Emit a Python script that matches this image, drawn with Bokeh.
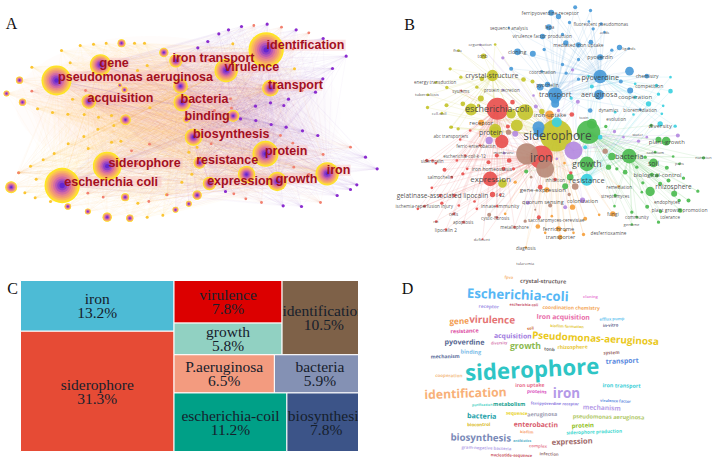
from bokeh.plotting import figure
from bokeh.models import ColumnDataSource, Range1d
from bokeh.layouts import column, row
from bokeh.core.properties import value
from bokeh.embed import file_html
from bokeh.resources import INLINE
from math import radians

# ---------- Panel A: co-occurrence network (values read at 3x of the picture) ----------
A_HUBS = [(797,148,53),(168,240,45),(185,555,53),(320,497,43),(300,193,32),(677,210,35),
          (526,181,20),(810,263,25),(265,303,22),(545,306,26),(558,357,10),(698,346,18),
          (579,410,26),(795,460,39),(597,487,18),(980,520,35),(830,543,29),(738,522,26),
          (627,549,20),(540,257,22),(375,358,16),(490,156,14),(363,128,12),(32,560,18),
          (590,584,14),(374,590,12),(320,650,14),(388,653,11),(262,633,9),(202,618,10),
          (525,628,9),(565,610,9),(57,239,11),(18,279,9),(66,305,11),(372,268,9),(358,254,6)]
A_YELLOW = [(183,150),(94,200),(209,187),(239,135),(279,131),(317,128),(402,128),(432,128),
            (440,195),(411,210),(448,322),(333,345),(202,341),(156,336),(111,325),(216,296),
            (128,478),(90,497),(107,536),(161,459),(203,430),(250,408),(333,425),(361,422),
            (340,375),(55,517),(440,650),(487,644),(412,608),(574,521),(565,455),(498,583),
            (544,545),(590,440),(292,386),(294,350),(251,342),(263,444),(150,603),(73,577),
            (104,592),(697,130),(882,205)]
A_SALMON = [(94,272),(255,270),(277,300),(262,578),(308,590),(445,603),(500,583),(393,451),
            (447,431),(410,490),(632,430),(690,295),(693,323),(642,330),(840,405),(880,500),
            (925,522),(877,428),(968,462),(1050,440),(700,580),(736,595),(783,606),(960,606),
            (1020,505),(878,145),(625,178),(760,75),(843,80),(925,97),(905,270),(54,517)]
A_PURPLE = [(723,78),(800,71),(887,88),(968,114),(1037,167),(996,204),(967,235),(864,296),
            (945,275),(810,307),(765,317),(850,315),(720,355),(766,360),(812,372),(857,380),
            (906,391),(952,405),(655,100),(684,88),(622,123),(592,142),(1069,553),(1050,567),
            (1010,585),(903,618),(848,616),(675,573),(1095,470),(1130,505)]
A_LABELS = ["identification","iron transport","virulence","gene","pseudomonas aeruginosa","transport",
            "acquisition","bacteria","binding","biosynthesis","protein","siderophore","resistance",
            "iron","growth","expression","escherichia coli"]
A_LAB_X = [915,639,754,341,405,885,360,612,620,692,857,432,680,1014,888,719,332]
A_LAB_Y = [134,171,200,188,229,254,293,296,347,399,450,488,477,509,534,540,544]
A_LAB_W = [232,222,152,82,472,150,188,130,118,222,120,220,163,64,112,180,293]

# ---------- Panel B: VOSviewer map ----------
B_BLUE = [(725,228,20),(590,282,22),(722,283,15),(813,212,13),(815,270,9),(578,37,9),(600,48,8),
          (650,20,6),(696,30,5),(633,66,5),(728,70,5),(691,63,4),(704,85,5),(738,95,4),(571,80,9),
          (451,81,3),(552,108,8),(612,102,5),(622,127,8),(660,133,8),(697,125,7),(477,154,10),
          (523,160,9),(557,147,5),(725,170,9),(660,177,5),(612,192,5),(783,141,8),(760,149,5),
          (811,144,4),(458,205,6),(550,213,4),(623,218,5),(660,236,5),(567,252,8),(545,260,10),
          (787,243,6),(865,227,7),(540,380,18),(590,310,12),(590,295,14),(540,395,15),(695,330,7),
          (845,327,4)]
B_OLIVE = [(593,405,48),(402,225,17),(338,327,18),(500,335,24),(458,340,14),(370,235,7),(367,294,9),
           (360,315,5),(313,310,7),(264,314,6),(207,321,5),(250,338,4),(275,205,5),(307,230,5),
           (265,261,5),(232,246,4),(208,283,4),(355,260,5),(495,237,7),(522,243,6),(375,167,8),
           (410,132,4),(300,150,4),(299,385,5),(277,380,5),(475,375,18),(410,388,18),(550,333,8),
           (410,395,17),(432,549,13),(280,380,4)]
B_RED = [(548,470,35),(417,325,33),(395,535,22),(430,423,20),(205,480,5),(222,480,4),
         (258,508,6),(232,488,4),(295,480,4),(320,465,4),(280,530,4),(313,520,5),(326,505,4),
         (390,485,6),(220,562,4),(245,585,5),(287,585,5),(301,615,4),(250,608,5),(198,617,4),
         (178,625,4),(286,640,4),(233,663,4),(262,687,4),(315,665,4),(415,617,4),(415,651,4),
         (348,603,4),(355,625,4),(402,582,8),(425,583,4),(335,390,4),(365,435,4),(415,465,6),
         (452,480,7),(435,505,6),(465,505,5),(468,680,4),(372,716,3),(541,650,6),(545,560,7),
         (590,537,5),(637,517,5),(305,417,4),(448,378,6),(462,305,7),(640,342,7),(308,270,3)]
B_GREEN = [(690,395,35),(685,490,22),(812,467,22),(885,487,13),(875,573,14),(923,422,13),(900,418,9),
           (760,468,11),(750,500,8),(800,515,7),(775,505,5),(620,557,9),(635,530,10),(770,585,5),
           (768,617,4),(820,635,5),(866,619,6),(900,665,5),(820,672,4),(947,580,9),(962,600,5),
           (965,630,7),(906,633,5),(835,650,4),(990,600,6),(1018,572,5),(1035,472,5),(963,490,4),
           (944,468,4),(925,502,6),(895,525,6),(890,455,4),(860,470,5),(905,550,6),(853,547,5),
           (975,533,5),(503,513,6),(835,500,5),(880,523,6),(850,575,4),(930,540,6),(742,378,5),
           (878,375,5),(700,370,15)]
B_CYAN = [(685,538,18),(725,410,7),(680,440,6),(905,370,8),(950,377,5),(870,310,8),(936,230,4),
          (894,255,5),(830,250,4),(936,272,7),(900,281,5),(830,290,5),(914,316,4),(910,340,4),
          (825,342,4),(770,335,4),(690,227,4),(700,258,6),(638,293,5),(595,365,15)]
B_PURPLE = [(645,450,27),(433,172,5),(642,208,5),(525,285,4),(658,304,6),(532,318,6),(600,330,5),
            (365,133,3),(433,268,3),(392,420,11),(470,400,9),(437,458,4),(768,393,5),(840,422,5),
            (958,405,6),(795,410,4),(865,410,4),(672,599,8),(508,607,6),(620,620,6),(595,475,4)]
B_BROWN = [(505,460,32),(560,505,27),(450,395,8),(740,452,8),(650,558,10),(632,582,5),(575,615,6),
           (392,643,6),(500,662,5),(530,628,3),(518,530,4)]
B_ORANGE = [(573,343,13),(368,367,9),(565,568,8),(642,620,8),(722,643,4),(763,640,8),(780,558,4),
            (680,655,6),(675,702,5),(645,697,4),(600,685,8),(605,710,7),(560,697,4),(538,678,7),
            (580,647,4),(620,690,4),(502,741,4),(470,545,5),(618,488,4),(440,640,4)]
B_LABELS = ["ferripyoverdine receptor","sequence analysis","fepa","fluorescent pseudomonas",
            "virulence factor production","acids","mediated iron uptake","organization","ligands","fhua",
            "cloning","tonb","pyoverdin","coordination","crystal-structure","pyoverdine","chemistry",
            "energy transduction","pyochelin","competition","systems","protein secretion","tuberculosis",
            "transport","aeruginosa","cooperation","escherichia-coli","dynamics","bioremediation","cell-wall",
            "iron-uptake","toxin","evolution","receptor","diversity","abc transporters","protein","siderophore",
            "water","plant-growth","ferric-enterobactin","cadmium","nutrition","iron","bacteria","membrane",
            "siderocalin","escherichia-coli-k-12","growth","soil","pahs","iron homeostasis","biological-control",
            "salmochelin","expression","inhibition","resistance","rhizosphere","remediation","gene-expression",
            "streptomyces","gelatinase-associated lipocalin","il-22","quorum sensing","colonization","endophytes",
            "ischemia-reperfusion injury","innate immunity","plant growth promotion","cells","fungi",
            "cystic-fibrosis","saccharomyces-cerevisiae","community","tolerance","genome","rat","apoptosis",
            "metallophore","ferrichrome","lipocalin 2","transporter","desferrioxamine","deficient","diagnosis","tularemia"]
B_LAB_X = [575,451,573,727,551,738,660,365,811,297,476,372,725,552,400,725,866,230,567,872,307,430,205,590,
           722,830,416,750,845,242,575,676,773,368,905,277,397,597,838,925,352,890,1035,548,812,435,221,318,
           685,885,963,400,897,245,396,590,685,945,782,553,770,252,425,553,672,925,197,425,963,285,763,410,593,
           835,935,819,232,314,468,600,262,606,750,370,502,500]
B_LAB_Y = [37,81,79,69,107,95,133,132,144,150,154,167,169,213,224,228,227,245,252,255,270,269,281,281,283,290,
           324,327,327,338,344,351,356,367,375,407,395,406,403,423,435,455,472,470,467,457,480,465,488,488,490,
           505,522,530,533,537,539,557,558,568,586,586,584,603,600,603,617,617,628,640,639,651,657,650,650,673,
           663,664,679,685,687,709,698,716,741,790]
B_LAB_S = [5,4.5,4.5,4.5,4.7,4,5,4,4,4,5.5,4.5,5.5,4.5,7,7.2,5,4.5,5,5,4.5,4.5,4.2,7.4,7,6,9,4.5,4.7,4,6,4,4.5,6,6,
           4.5,7,12,4,6,4.5,4,4,12,7.5,4,4.5,4.5,9,7,4,5,6,4.5,8,4.5,7.5,6.5,4.5,6,4.5,6.5,4.5,5.5,5.5,4.7,4.5,
           5,5,4.5,5,4.5,4.7,4.5,4.5,4.2,4,4.5,4.5,5.7,4.7,5.5,4.7,4,4.5,4]

# ---------- Panel C: treemap shares ----------
C_LEFT = ["iron","siderophore"]
C_LEFT_V = [13.2,31.3]
C_TOP_COL = ["virulence","growth"]
C_TOP_COL_V = [7.8,5.8]
C_TOP_SIDE = ["identification"]
C_TOP_SIDE_V = [10.5]
C_MID = ["P.aeruginosa","bacteria"]
C_MID_V = [6.5,5.9]
C_BOT = ["escherichia-coil","biosynthesis"]
C_BOT_V = [11.2,7.8]
C_COLORS = {"iron":"#4DBBD5","siderophore":"#E64B35","virulence":"#DC0000","growth":"#91D1C2",
            "identification":"#7E6148","P.aeruginosa":"#F39B7F","bacteria":"#8491B4",
            "escherichia-coil":"#00A087","biosynthesis":"#3C5488"}

# ---------- Panel D: word cloud ----------
D_WORDS = ["fpva","crystal-structure","Escherichia-coli","cloning","receptor","escherichia-coli",
           "coordination chemistry","gene","virulence","Iron acquisition","efflux pump","resistance","soil",
           "biofilm formation","in-vitro","acquisition","Pseudomonas-aeruginosa","pyoverdine","diversity",
           "growth","tonb","rhizosphere","binding","system","mechanism","transport","siderophore",
           "cooperation","iron uptake","proteins","iron","iron transport","identification","purification",
           "metabolism","ferripyoverdine receptor","virulence factor","mechanism","bacteria","sequence",
           "aeruginosa","pseudomonas aeruginosa","biocontrol","enterobactin","protein","biofilm",
           "siderophore production","biosynthesis","antibiotics","expression","complex",
           "gram-negative bacteria","infection","nucleotide-sequence"]
D_X = [325,428,352,570,265,370,512,176,275,488,634,192,390,500,630,337,585,192,296,375,447,516,211,633,134,
       665,395,145,388,409,498,663,195,245,326,463,645,604,244,349,425,624,235,406,547,379,581,241,365,515,413,
       258,446,333]
D_Y = [35,47,87,93,122,117,126,165,161,154,160,196,188,182,179,211,217,228,232,242,250,244,259,260,272,286,
       310,329,358,377,381,360,383,417,415,414,406,426,450,442,446,454,476,477,480,499,498,516,526,527,540,
       546,564,569]
D_W = [26,157,355,48,65,100,180,55,150,183,75,92,26,108,57,125,365,120,58,88,30,95,65,45,75,105,410,83,92,63,
       90,128,288,70,90,158,105,100,95,62,90,207,75,137,70,45,172,195,62,128,50,160,65,127]
D_A = [-3,-1,-2,0,-2,-1,-1,2,-1,-1,2,2,6,-2,2,-1,-3,-1,2,0,-5,1,-2,2,1,2,3,-1,1,-2,0,-1,2,1,0,-1,-2,-2,-2,-2,
       1,-1,1,-1,2,-2,2,-1,0,2,-2,-2,-2,-1]
D_C = ["#f6b26b","#6f6363","#56b7f5","#ea8ad8","#a89ae8","#c8566a","#f4a95a","#f29a50","#e57373","#e86aa8",
       "#70c8f0","#dd4fa5","#cf6a30","#e3c840","#5c5f8a","#a07ae0","#eac81a","#566690","#d67ab0","#8cba50",
       "#6e6e6e","#e8c83a","#7ebde8","#9a6a6a","#5a6a9a","#5a8ae0","#2ec5c5","#f4c08a","#e86a8a","#d84fc0",
       "#b49ae8","#3ccfd8","#f8b078","#4fd4c8","#20a090","#8a7ae0","#5a8ae0","#b8a0e8","#20a0a8","#e8d020",
       "#9a9ab0","#b0c868","#d8b820","#d85a6a","#90c020","#f8a070","#40d8d0","#7a8ab8","#50b0c8","#a06a6a",
       "#e88a9a","#b8a8e8","#9a7a7a","#c8505a"]
PANEL_LETTERS = ["A","B"]


def new_fig(x0, x1, y0, y1):
    p = figure(width=x1 - x0, height=y1 - y0, x_range=Range1d(x0, x1), y_range=Range1d(y1, y0),
               x_axis_location=None, y_axis_location=None, toolbar_location=None,
               output_backend="svg", min_border=0, outline_line_color=None)
    p.grid.visible = False
    return p


top = new_fig(0, 716, 0, 268)

# --- A ---
def zx(v): return v / 3
def zy(v): return v / 3

# soft haze of the densely linked centre, built up in faint steps so that it has no hard edge
for k in (1.0, 0.88, 0.76, 0.64, 0.52, 0.40, 0.28):
    top.ellipse([150], [103], width=[270 * k], height=[135 * k], fill_color="#f6b9a0", fill_alpha=0.045, line_color=None)
    top.ellipse([275], [115], width=[130 * k], height=[130 * k], fill_color="#d8b0e4", fill_alpha=0.025, line_color=None)

hubs = A_HUBS[:20]
all_a = [(x, y, "#f5b83a") for x, y, _ in A_HUBS[:] if x < 500] + \
        [(x, y, "#c878c8") for x, y, _ in A_HUBS[:] if x >= 500] + \
        [(x, y, "#f8c040") for x, y in A_YELLOW] + [(x, y, "#f08a70") for x, y in A_SALMON] + \
        [(x, y, "#9a50d0") for x, y in A_PURPLE]
xs, ys, cs = [], [], []
for x, y, c in all_a:
    for hx, hy, _ in hubs:
        if (x, y) != (hx, hy):
            xs.append([zx(x), zx(hx)])
            ys.append([zy(y), zy(hy)])
            cs.append(c)
top.multi_line(xs, ys, line_color=cs, line_alpha=0.05, line_width=0.7)

top.rect([zx(v) for v in A_LAB_X], [zy(v) for v in A_LAB_Y], width=[zx(v) + 3 for v in A_LAB_W], height=11,
         fill_color="#f7b7b7", fill_alpha=0.38, line_color=None)

LAYERS = [(1.0, "#ffe81c"), (0.93, "#fdd640"), (0.84, "#fab95c"), (0.74, "#f39f70"),
          (0.63, "#e98888"), (0.52, "#d66ea0"), (0.40, "#b656b6"), (0.28, "#8e40c6"), (0.15, "#6426d0")]
for k, c in LAYERS:
    top.circle([zx(n[0]) for n in A_HUBS], [zy(n[1]) for n in A_HUBS],
               radius=[zx(n[2]) * k for n in A_HUBS], fill_color=c, line_color=None)
top.circle([zx(n[0]) for n in A_YELLOW], [zy(n[1]) for n in A_YELLOW], radius=1.5,
           fill_color="#fbc531", line_color=None)
top.circle([zx(n[0]) for n in A_SALMON], [zy(n[1]) for n in A_SALMON], radius=1.4,
           fill_color="#f2806f", line_color=None)
top.circle([zx(n[0]) for n in A_PURPLE], [zy(n[1]) for n in A_PURPLE], radius=1.6,
           fill_color="#8a2bcf", line_color=None)
top.text([zx(v) for v in A_LAB_X], [zy(v) for v in A_LAB_Y], text=A_LABELS, text_align="center",
         text_baseline="middle", text_color="#a30f1f", text_font=value("Liberation Sans"),
         text_font_style="bold", text_font_size="12.5px")

# --- B ---
def bx(v): return 358 + v / 3
def by(v): return v / 3

CLUSTERS = [(B_BLUE, "#4a9ad8", (725, 228)), (B_OLIVE, "#c4c42c", (593, 405)), (B_RED, "#e8504e", (548, 470)),
            (B_GREEN, "#4cbb50", (690, 395)), (B_CYAN, "#3cd0e0", (685, 538)), (B_PURPLE, "#b48ae0", (645, 450)),
            (B_BROWN, "#b88a78", (505, 460)), (B_ORANGE, "#f5a03c", (573, 343))]
SECOND = {"#4a9ad8": (590, 282), "#c4c42c": (402, 225), "#e8504e": (417, 325), "#4cbb50": (812, 467),
          "#3cd0e0": (725, 228), "#b48ae0": (593, 405), "#b88a78": (593, 405), "#f5a03c": (593, 405)}
exs, eys, ecs = [], [], []
nodes = []
for lst, col, hub in CLUSTERS:
    for x, y, r in lst:
        nodes.append((r, x, y, col))
        for hx, hy in (hub, SECOND[col]):
            exs.append([bx(x), bx(hx)])
            eys.append([by(y), by(hy)])
            ecs.append(col)
top.multi_line(exs, eys, line_color=ecs, line_alpha=0.17, line_width=0.7)
nodes.sort(key=lambda n: -n[0])
top.circle([bx(n[1]) for n in nodes], [by(n[2]) for n in nodes], radius=[n[0] / 3 for n in nodes],
           fill_color=[n[3] for n in nodes], fill_alpha=0.92, line_color=None)
top.text([bx(v) for v in B_LAB_X], [by(v) for v in B_LAB_Y], text=B_LABELS,
         text_font_size=[f"{s}px" for s in B_LAB_S], text_align="center", text_baseline="middle",
         text_color="#3c3c3c", text_alpha=0.9, text_font=value("Open Sans"))
top.text([11, 409], [23, 24], text=PANEL_LETTERS, text_align="center", text_baseline="middle",
         text_color="#111111", text_font=value("Liberation Serif"), text_font_size="16px")

# --- C: a treemap laid out from its values ---
c = new_fig(0, 358, 268, 461)
TX0, TX1, TY0, TY1 = 20.0, 365.0, 280.0, 451.0
total = sum(C_LEFT_V + C_TOP_COL_V + C_TOP_SIDE_V + C_MID_V + C_BOT_V)
rects = []
W, H = TX1 - TX0, TY1 - TY0
xm = TX0 + W * sum(C_LEFT_V) / total
ym = TY0 + H * C_LEFT_V[0] / sum(C_LEFT_V)
rects.append((C_LEFT[0], C_LEFT_V[0], TX0, xm, TY0, ym))
rects.append((C_LEFT[1], C_LEFT_V[1], TX0, xm, ym, TY1))
right = total - sum(C_LEFT_V)
y1 = TY0 + H * (sum(C_TOP_COL_V) + C_TOP_SIDE_V[0]) / right
y2 = y1 + H * sum(C_MID_V) / right
x1 = xm + (TX1 - xm) * sum(C_TOP_COL_V) / (sum(C_TOP_COL_V) + C_TOP_SIDE_V[0])
yy = TY0 + (y1 - TY0) * C_TOP_COL_V[0] / sum(C_TOP_COL_V)
rects.append((C_TOP_COL[0], C_TOP_COL_V[0], xm, x1, TY0, yy))
rects.append((C_TOP_COL[1], C_TOP_COL_V[1], xm, x1, yy, y1))
rects.append((C_TOP_SIDE[0], C_TOP_SIDE_V[0], x1, TX1, TY0, y1))
xx = xm + (TX1 - xm) * C_MID_V[0] / sum(C_MID_V)
rects.append((C_MID[0], C_MID_V[0], xm, xx, y1, y2))
rects.append((C_MID[1], C_MID_V[1], xx, TX1, y1, y2))
xx = xm + (TX1 - xm) * C_BOT_V[0] / sum(C_BOT_V)
rects.append((C_BOT[0], C_BOT_V[0], xm, xx, y2, TY1))
rects.append((C_BOT[1], C_BOT_V[1], xx, TX1, y2, TY1))
src = ColumnDataSource(dict(
    name=[r[0] for r in rects], pct=[f"{r[1]}%" for r in rects],
    left=[r[2] for r in rects], right=[r[3] for r in rects], top=[r[4] for r in rects], bottom=[r[5] for r in rects],
    cx=[(r[2] + r[3]) / 2 for r in rects], cy=[(r[4] + r[5]) / 2 for r in rects],
    color=[C_COLORS[r[0]] for r in rects]))
c.quad(left="left", right="right", top="top", bottom="bottom", fill_color="color", line_color="white",
       line_width=1, source=src)
for col, off in (("name", -7), ("pct", 7)):
    c.text("cx", "cy", text=col, source=src, y_offset=off, text_align="center", text_baseline="middle",
           text_color="#16202c", text_font=value("Liberation Serif"), text_font_size="15.5px")
c.text([12], [288], text=["C"], text_align="center", text_baseline="middle", text_color="#111111",
       text_font=value("Liberation Serif"), text_font_size="16px")

# --- D ---
d = new_fig(358, 716, 268, 461)
dsize = [f"{(w / 3) / (len(t) * 0.56):.1f}px" for w, t in zip(D_W, D_WORDS)]
d.text([400 + v / 3 for v in D_X], [265 + v / 3 for v in D_Y], text=D_WORDS, angle=[radians(a) for a in D_A],
       text_font_size=dsize, text_align="center", text_baseline="middle", text_color=D_C,
       text_font=value("Open Sans"), text_font_style="bold")
d.text([407], [288], text=["D"], text_align="center", text_baseline="middle", text_color="#111111",
       text_font=value("Liberation Serif"), text_font_size="16px")

page = column(top, row(c, d, spacing=0), spacing=0)
open("out.html", "w").write(file_html(page, INLINE))
